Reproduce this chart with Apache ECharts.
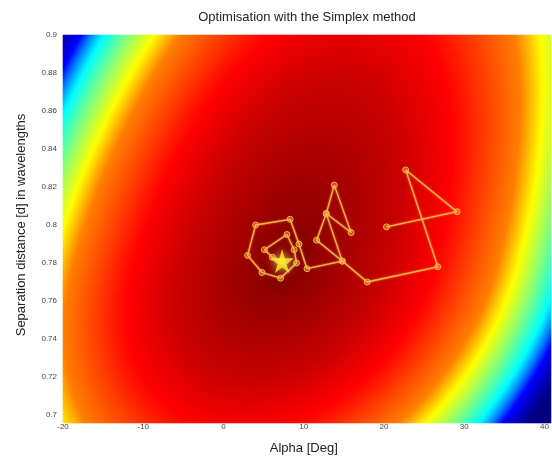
<!DOCTYPE html>
<html>
<head>
<meta charset="utf-8">
<title>Optimisation with the Simplex method</title>
<script src="https://cdn.jsdelivr.net/npm/echarts@6/dist/echarts.min.js"></script>
<style>
    html, body { margin: 0; padding: 0; background: #fff; }
    #chart { width: 552px; height: 460px; }
</style>
</head>
<body>
<div id="chart"></div>
<script>
// axis ranges and ticks
const alphaRange = [-20, 40];
const distRange = [0.7, 0.9];
const alphaTicks = [-20, -10, 0, 10, 20, 30, 40];
const distTicks = [0.7, 0.72, 0.74, 0.76, 0.78, 0.8, 0.82, 0.84, 0.86, 0.88, 0.9];

// simplex path (alpha in deg, d in wavelengths)
const pathAlpha = [20.3, 29.1, 22.7, 26.7, 17.9, 14.8, 12.8, 13.8, 15.9, 12.8, 11.6, 14.8, 10.4, 9.4, 8.3, 4.0, 3.0, 4.8, 7.1, 9.1, 8.8, 7.9, 5.1, 6.1, 7.3];
const pathDist  = [0.799, 0.807, 0.829, 0.778, 0.770, 0.781, 0.806, 0.821, 0.796, 0.806, 0.792, 0.781, 0.777, 0.790, 0.803, 0.800, 0.784, 0.775, 0.772, 0.780, 0.787, 0.795, 0.787, 0.783, 0.781];
const optimum = [7.3, 0.781];

// cost surface
const surfaceCentre = [7.3, 0.781];
// [alpha^2, alpha*d, d^2 above centre, d^2 below centre]
const surfaceCoef = [1.27e-3, -0.164, 28.2, 65.5];
// elliptical radius -> jet level (0 dark blue ... 1 dark red)
const levelRadius = [0, 0.45, 0.66, 0.93, 1.02, 1.12, 1.21, 1.26, 1.30, 1.40];
const levelValue  = [1, 0.93, 0.875, 0.75, 0.625, 0.5, 0.375, 0.25, 0.125, 0];
const jetColours = ['#000080', '#0000ff', '#0080ff', '#00ffff', '#80ff80', '#ffff00', '#ff8000', '#ff0000', '#800000'];

const cellsX = 244;
const cellsY = 194;

function surfaceLevel(alpha, dist) {
    const da = alpha - surfaceCentre[0];
    const dd = dist - surfaceCentre[1];
    const bd = dd > 0 ? surfaceCoef[2] : surfaceCoef[3];
    const r = Math.sqrt(Math.max(0, surfaceCoef[0] * da * da + surfaceCoef[1] * da * dd + bd * dd * dd));
    for (let k = 1; k < levelRadius.length; k++) {
        if (r <= levelRadius[k]) {
            const t = (r - levelRadius[k - 1]) / (levelRadius[k] - levelRadius[k - 1]);
            return levelValue[k - 1] + t * (levelValue[k] - levelValue[k - 1]);
        }
    }
    return 0;
}

function buildSurface() {
    const data = [];
    const stepA = (alphaRange[1] - alphaRange[0]) / cellsX;
    const stepD = (distRange[1] - distRange[0]) / cellsY;
    for (let i = 0; i < cellsX; i++) {
        const a = alphaRange[0] + (i + 0.5) * stepA;
        for (let j = 0; j < cellsY; j++) {
            const d = distRange[0] + (j + 0.5) * stepD;
            data.push([i, j, surfaceLevel(a, d)]);
        }
    }
    return data;
}

function initChart() {
    const chart = echarts.init(document.getElementById('chart'));
    const font = 'Liberation Sans, Arial, sans-serif';
    const gridBox = { left: 63, top: 35, width: 488, height: 388 };

    const xIdx = Array.from({ length: cellsX }, (_, i) => i);
    const yIdx = Array.from({ length: cellsY }, (_, j) => j);

    const option = {
        animation: false,
        title: {
            text: 'Optimisation with the Simplex method',
            left: 307,
            top: 11,
            textAlign: 'center',
            padding: 0,
            textStyle: { fontFamily: font, fontSize: 13, fontWeight: 'normal', color: '#222' }
        },
        grid: [
            Object.assign({}, gridBox),
            Object.assign({}, gridBox)
        ],
        xAxis: [
            { type: 'category', gridIndex: 0, data: xIdx, show: false },
            {
                type: 'value', gridIndex: 1,
                min: alphaRange[0], max: alphaRange[1], interval: 10,
                name: 'Alpha [Deg]', nameLocation: 'middle', nameGap: 27,
                nameTextStyle: { fontFamily: font, fontSize: 13, color: '#222' },
                axisLine: { show: false }, axisTick: { show: false }, splitLine: { show: false },
                axisLabel: { fontFamily: font, fontSize: 8, color: '#444', margin: 8 }
            }
        ],
        yAxis: [
            { type: 'category', gridIndex: 0, data: yIdx, show: false },
            {
                type: 'value', gridIndex: 1,
                min: distRange[0], max: distRange[1], interval: 0.02,
                name: 'Separation distance [d] in wavelengths', nameLocation: 'middle', nameGap: 35,
                nameTextStyle: { fontFamily: font, fontSize: 13, color: '#222' },
                axisLine: { show: false }, axisTick: { show: false }, splitLine: { show: false },
                axisLabel: { fontFamily: font, fontSize: 8, color: '#444', margin: 6 }
            }
        ],
        visualMap: {
            type: 'continuous',
            show: false,
            seriesIndex: 0,
            dimension: 2,
            min: 0,
            max: 1,
            inRange: { color: jetColours }
        },
        series: [
            {
                type: 'heatmap',
                xAxisIndex: 0,
                yAxisIndex: 0,
                data: buildSurface(),
                progressive: 0,
                silent: true,
                emphasis: { disabled: true }
            },
            {
                type: 'line',
                xAxisIndex: 1,
                yAxisIndex: 1,
                data: pathAlpha.map((a, k) => [a, pathDist[k]]),
                symbol: 'circle',
                symbolSize: 6,
                lineStyle: { color: '#f4b543', width: 1.3, shadowBlur: 2, shadowColor: 'rgba(255,210,90,0.8)' },
                itemStyle: { color: 'rgba(250,185,75,0.4)', borderColor: '#f4b543', borderWidth: 1 },
                z: 3
            },
            {
                type: 'scatter',
                xAxisIndex: 1,
                yAxisIndex: 1,
                data: [optimum],
                symbol: 'path://M50,0 L61,35 L98,35 L68,57 L79,91 L50,70 L21,91 L32,57 L2,35 L39,35 Z',
                symbolSize: 24,
                itemStyle: { color: '#fff02a', shadowBlur: 8, shadowColor: 'rgba(255,255,120,0.9)' },
                z: 4
            }
        ]
    };

    chart.setOption(option);
}

if (document.readyState === 'loading') {
    document.addEventListener('DOMContentLoaded', initChart);
} else {
    initChart();
}
</script>
</body>
</html>
